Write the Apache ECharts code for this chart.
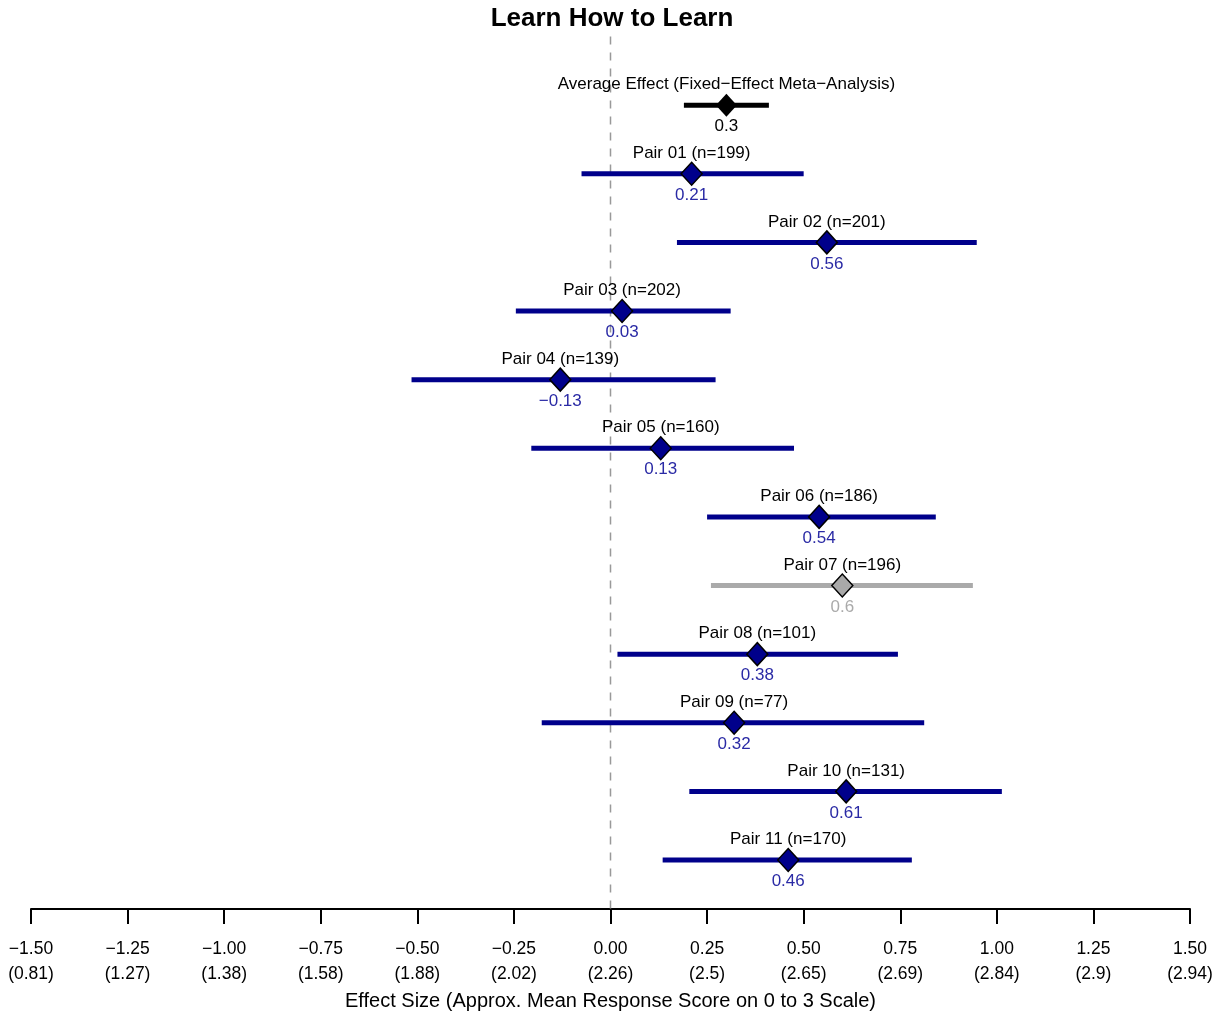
<!DOCTYPE html>
<html><head><meta charset="utf-8">
<script src="https://cdn.jsdelivr.net/npm/echarts@6/dist/echarts.min.js"></script>
<style>html,body{margin:0;padding:0;background:#fff}#c{width:1225px;height:1012px}</style>
</head><body><div id="c"></div>
<script>
var rowLabels = ["Average Effect (Fixed\u2212Effect Meta\u2212Analysis)","Pair 01 (n=199)","Pair 02 (n=201)","Pair 03 (n=202)","Pair 04 (n=139)","Pair 05 (n=160)","Pair 06 (n=186)","Pair 07 (n=196)","Pair 08 (n=101)","Pair 09 (n=77)","Pair 10 (n=131)","Pair 11 (n=170)"];
var estimates = [0.3, 0.21, 0.56, 0.03, -0.13, 0.13, 0.54, 0.6, 0.38, 0.32, 0.61, 0.46];
var lowerCI = [0.19, -0.075, 0.172, -0.245, -0.515, -0.205, 0.25, 0.26, 0.018, -0.178, 0.204, 0.135];
var upperCI = [0.41, 0.50, 0.948, 0.311, 0.272, 0.475, 0.842, 0.938, 0.744, 0.812, 1.013, 0.78];
var valueLabels = ["0.3","0.21","0.56","0.03","\u22120.13","0.13","0.54","0.6","0.38","0.32","0.61","0.46"];
var rowGroup = ["average","pair","pair","pair","pair","pair","pair","excluded","pair","pair","pair","pair"];
var xTicks = [-1.5,-1.25,-1,-0.75,-0.5,-0.25,0,0.25,0.5,0.75,1,1.25,1.5];
var scaleLabels = ["0.81","1.27","1.38","1.58","1.88","2.02","2.26","2.5","2.65","2.69","2.84","2.9","2.94"];

var FONT = "Liberation Sans";
var lineColor = {average:"#000000", pair:"#00008B", excluded:"#AAAAAA"};
var fillColor = {average:"#000000", pair:"#00008B", excluded:"#A9A9A9"};
var valColor = {average:"#000000", pair:"#2A2AA5", excluded:"#AAAAAA"};

function fmtTick(v){
  var s = Math.abs(v).toFixed(2);
  return (v < 0 ? "\u2212" : "") + s;
}

var rows = estimates.map(function(e,i){ return [lowerCI[i], upperCI[i], i, e]; });
var pts = estimates.map(function(e,i){
  var g = rowGroup[i];
  return {value:[e,i], itemStyle:{color:fillColor[g], borderColor:"#000", borderWidth: g==="average"?0:1.5, opacity:1}};
});

var chart = echarts.init(document.getElementById('c'), null, {renderer:'canvas'});
chart.setOption({
  animation:false,
  backgroundColor:"#fff",
  title:{text:"Learn How to Learn", left:607, textAlign:"center", top:1,
    textStyle:{fontFamily:FONT, fontSize:26, fontWeight:"bold", color:"#000"}},
  grid:{left:31, right:35, top:36.5, bottom:103, containLabel:false, outerBoundsMode:"none"},
  xAxis:{type:"value", min:-1.5, max:1.5, interval:0.25, position:"bottom",
    axisLine:{show:true, onZero:false, lineStyle:{color:"#000", width:2}},
    axisTick:{show:true, inside:false, length:15, lineStyle:{color:"#000", width:2}},
    splitLine:{show:false},
    axisLabel:{margin:28, fontFamily:FONT, fontSize:17.5, color:"#000", lineHeight:25,
      formatter:function(v){
        var k = Math.round((v+1.5)/0.25);
        return fmtTick(v) + "\n(" + scaleLabels[k] + ")";
      }},
    name:"Effect Size (Approx. Mean Response Score on 0 to 3 Scale)",
    nameLocation:"middle", nameGap:74,
    nameTextStyle:{fontFamily:FONT, fontSize:20, color:"#000"}
  },
  yAxis:{type:"value", min:-1, max:11.714, inverse:true, show:false},
  series:[
    {type:"line", data:[[0,-1],[0,11.714]], symbol:"none", silent:true,
      lineStyle:{color:"#999", width:1.5, type:[8,8]}, z:1},
    {type:"custom", data:rows, z:2,
      renderItem:function(params, api){
        var i = api.value(2);
        var g = rowGroup[i];
        var p1 = api.coord([api.value(0), i]);
        var p2 = api.coord([api.value(1), i]);
        var pc = api.coord([api.value(3), i]);
        return {type:"group", children:[
          {type:"line", shape:{x1:p1[0], y1:p1[1], x2:p2[0], y2:p2[1]},
            style:{stroke:lineColor[g], lineWidth:5}},
          {type:"text", x:pc[0], y:pc[1]-20.5, style:{text:rowLabels[i], fill:"#000",
            font:"17px '"+FONT+"'", textAlign:"center", textVerticalAlign:"middle"}},
          {type:"text", x:pc[0], y:pc[1]+21.5, style:{text:valueLabels[i], fill:valColor[g],
            font:"17px '"+FONT+"'", textAlign:"center", textVerticalAlign:"middle"}}
        ]};
      }},
    {type:"scatter", data:pts, symbol:"diamond", symbolSize:[21,23], z:5}
  ]
});
</script></body></html>
